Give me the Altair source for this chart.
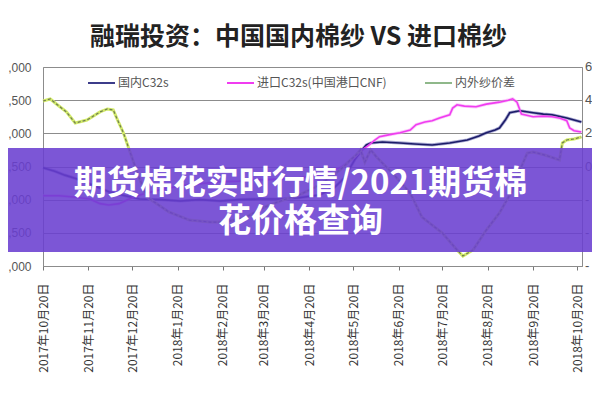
import altair as alt
import pandas as pd

TITLE = "融瑞投资：中国国内棉纱 VS 进口棉纱"
BANNER_LINES = ["期货棉花实时行情/2021期货棉", "花价格查询"]
SERIES = ["国内C32s", "进口C32s(中国港口CNF)", "内外纱价差"]

dom_dates = ["2017-10-20", "2017-10-28", "2017-11-04", "2017-11-14", "2017-11-24", "2017-12-04",
             "2017-12-15", "2017-12-25", "2018-01-08", "2018-01-22", "2018-02-04", "2018-02-18",
             "2018-03-03", "2018-03-17", "2018-03-31", "2018-04-13", "2018-04-27", "2018-05-07",
             "2018-05-14", "2018-05-21", "2018-05-26", "2018-05-29", "2018-06-01", "2018-06-09",
             "2018-06-21", "2018-07-01", "2018-07-13", "2018-07-25", "2018-08-06", "2018-08-14",
             "2018-08-19", "2018-08-25", "2018-08-28", "2018-09-01", "2018-09-04", "2018-09-11",
             "2018-09-20", "2018-09-27", "2018-10-03", "2018-10-13", "2018-10-18", "2018-10-23"]
dom_values = [23480, 23430, 23370, 23300, 23210, 23120, 23060, 23010, 23000, 22980, 23000, 22980,
              23000, 23010, 23010, 23030, 23070, 23180, 23330, 23600, 23750, 23825, 23855, 23870,
              23855, 23840, 23825, 23855, 23900, 23960, 24010, 24050, 24080, 24200, 24310, 24340,
              24310, 24290, 24280, 24230, 24200, 24170]

imp_dates = ["2017-10-20", "2017-10-31", "2017-11-10", "2017-11-21", "2017-11-28", "2017-12-04",
             "2017-12-11", "2017-12-18", "2017-12-25", "2018-01-08", "2018-01-22", "2018-02-04",
             "2018-02-18", "2018-03-03", "2018-03-17", "2018-03-31", "2018-04-13", "2018-04-27",
             "2018-05-11", "2018-05-21", "2018-05-26", "2018-05-30", "2018-06-04", "2018-06-07",
             "2018-06-14", "2018-06-21", "2018-06-28", "2018-07-02", "2018-07-08", "2018-07-13",
             "2018-07-18", "2018-07-25", "2018-07-27", "2018-07-30", "2018-08-04", "2018-08-12",
             "2018-08-19", "2018-08-28", "2018-09-03", "2018-09-06", "2018-09-09", "2018-09-12",
             "2018-09-20", "2018-09-27", "2018-10-03", "2018-10-08", "2018-10-13", "2018-10-15",
             "2018-10-18", "2018-10-23"]
imp_values = [23060, 23060, 23040, 23010, 22940, 22920, 22940, 23010, 23070, 23150, 23210, 23240,
              23270, 23280, 23300, 23310, 23330, 23370, 23480, 23630, 23750, 23810, 23900, 23950,
              23980, 24010, 24050, 24130, 24170, 24190, 24230, 24280, 24380, 24430, 24410, 24400,
              24440, 24470, 24500, 24520, 24470, 24290, 24250, 24260, 24250, 24230, 24190, 24080,
              24040, 24020]

spr_dates = ["2017-10-20", "2017-10-25", "2017-10-30", "2017-11-05", "2017-11-11", "2017-11-19",
             "2017-11-28", "2017-12-03", "2017-12-07", "2017-12-10", "2017-12-14", "2017-12-18",
             "2017-12-24", "2017-12-30", "2018-01-14", "2018-01-28", "2018-02-11", "2018-02-22",
             "2018-03-08", "2018-03-19", "2018-04-02", "2018-04-13", "2018-04-27", "2018-05-11",
             "2018-05-18", "2018-05-22", "2018-05-25", "2018-05-28", "2018-06-01", "2018-06-05",
             "2018-06-17", "2018-06-28", "2018-07-06", "2018-07-20", "2018-07-30", "2018-08-03",
             "2018-08-10", "2018-08-19", "2018-08-28", "2018-09-06", "2018-09-11", "2018-09-16",
             "2018-09-20", "2018-09-28", "2018-10-08", "2018-10-10", "2018-10-13", "2018-10-18",
             "2018-10-23"]
spr_values = [395, 407, 371, 329, 262, 280, 329, 347, 341, 280, 202, 100, -51, -184, -274, -323,
              -335, -335, -305, -250, -202, -172, -112, -21, 39, 69, 100, 27, 100, 57, -51, -160,
              -305, -401, -503, -540, -503, -383, -280, -142, -21, 81, 87, 69, 39, 142, 160, 166, 178]

left_ticks = [22000, 22500, 23000, 23500, 24000, 24500, 25000]
right_ticks = [-600, -400, -200, 0, 200, 400, 600]
x_tick_dates = ["2017-10-20", "2017-11-20", "2017-12-20", "2018-01-20", "2018-02-20", "2018-03-20",
                "2018-04-20", "2018-05-20", "2018-06-20", "2018-07-20", "2018-08-20", "2018-09-20",
                "2018-10-20"]
x_domain = ["2017-10-20", "2018-10-23"]

# ---- styles ----
COLORS = ["#1c1c68", "#f03cf0", "#d2ea6a"]
HALOS = ["#6a6ab0", "#f7a8f7"]
FONT = "Noto Sans CJK SC"
W, H = 539, 199


def dt(s, hours=0):
    return alt.DateTime(year=int(s[:4]), month=int(s[5:7]), date=int(s[8:10]), hours=hours, utc=True)


df_main = pd.concat([
    pd.DataFrame({"date": dom_dates, "value": dom_values, "series": SERIES[0]}),
    pd.DataFrame({"date": imp_dates, "value": imp_values, "series": SERIES[1]}),
])
df_spr = pd.DataFrame({"date": spr_dates, "value": spr_values, "series": SERIES[2]})
df_rticks = pd.DataFrame({"value": right_ticks})

x_enc = alt.X(
    "date:T",
    scale=alt.Scale(type="utc", domain=[dt(x_domain[0]), dt(x_domain[1], 10)]),
    axis=alt.Axis(
        values=[dt(s) for s in x_tick_dates],
        labelExpr="utcFormat(datum.value, '%Y年%-m月%d日')",
        labelAngle=270, labelFontSize=12, labelFont=FONT, labelColor="#333",
        tickSize=4, tickColor="#777", labelPadding=13, domainColor="#8c8c8c",
        grid=False, title=None, labelOverlap=False,
    ),
)

y_left = alt.Y("value:Q",
               scale=alt.Scale(domain=[left_ticks[0], left_ticks[-1]], nice=False),
               axis=alt.Axis(values=left_ticks,
                             labelExpr="substring(format(datum.value, ','), 2)",
                             grid=True, gridColor="#8c8c8c", ticks=False, domain=False,
                             labelPadding=12, labelFontSize=12, labelColor="#555",
                             labelFont="Liberation Sans", title=None, orient="left",
                             labelOverlap=False))

main_halo = alt.Chart(df_main).mark_line(strokeWidth=3.2, opacity=0.6).encode(
    x=x_enc, y=y_left,
    color=alt.Color("series:N", scale=alt.Scale(domain=SERIES[:2], range=HALOS), legend=None),
    order=alt.Order("date:T"),
)
main_core = alt.Chart(df_main).mark_line(strokeWidth=1.6).encode(
    x=x_enc, y=y_left,
    stroke=alt.Stroke("series:N", scale=alt.Scale(domain=SERIES[:2], range=COLORS[:2]), legend=None),
    order=alt.Order("date:T"),
)
main = alt.layer(main_halo, main_core)

y_right = alt.Y("value:Q",
                scale=alt.Scale(domain=[right_ticks[0], right_ticks[-1]], nice=False),
                axis=None)

spr_halo = alt.Chart(df_spr).mark_line(strokeWidth=3, color=COLORS[2]).encode(x="date:T", y=y_right)
spr_dash = alt.Chart(df_spr).mark_line(strokeWidth=1.2, color="#6f7d52", strokeDash=[3, 2]).encode(
    x="date:T", y=y_right)
# right-hand axis labels (cut off at the picture edge: only the first character shows)
right_labels = alt.Chart(df_rticks).transform_calculate(
    lab="datum.value < 0 ? '-' : substring(toString(datum.value), 0, 1)"
).mark_text(align="left", baseline="middle", fontSize=13, font="Liberation Sans", color="#555").encode(
    y=y_right, x=alt.value(W + 3), text="lab:N")
spread = alt.layer(spr_halo, spr_dash, right_labels)

one = pd.DataFrame({"k": [0]})

# legend drawn inside the plot, Excel style
legend_x = [45, 184, 382]
legend_layers = []
legend_line_colors = ["#3c3c8a", COLORS[1], "#8fb88a"]
for name, lx, c in zip(SERIES, legend_x, legend_line_colors):
    legend_layers.append(alt.Chart(one).mark_rule(color=c, strokeWidth=2).encode(
        x=alt.value(lx), x2=alt.value(lx + 27), y=alt.value(16)))
    legend_layers.append(alt.Chart(one).mark_text(
        align="left", baseline="middle", fontSize=12, font=FONT, color="#555").encode(
        x=alt.value(lx + 30), y=alt.value(16), text=alt.value(name)))

title = alt.Chart(one).mark_text(
    align="center", baseline="middle", fontSize=25, fontWeight="bold", font=FONT, color="#222").encode(
    x=alt.value(W / 2 - 14), y=alt.value(-30), text=alt.value(TITLE))

banner = alt.Chart(one).mark_rect(color="#6a3fd0", opacity=0.88).encode(
    x=alt.value(-35), x2=alt.value(W + 10), y=alt.value(81), y2=alt.value(185))

banner_texts = [
    alt.Chart(one).mark_text(align="center", baseline="middle", fontSize=33, fontWeight="bold",
                             font=FONT, color="white").encode(
        x=alt.value(W / 2 - 12), y=alt.value(yy), text=alt.value(t))
    for t, yy in zip(BANNER_LINES, [117, 155])
]

chart = alt.layer(
    main, spread, *legend_layers, title, banner, *banner_texts
).resolve_scale(
    y="independent"
).properties(
    width=W, height=H,
    autosize=alt.AutoSizeParams(type="none"),
    padding={"left": 35, "top": 59, "right": 10, "bottom": 126},
    background="white",
).configure_view(
    stroke="#8c8c8c", strokeWidth=1
).configure_axis(
    labelOverlap=False
)

chart.save("out.html", embed_options={"renderer": "svg", "actions": False})
